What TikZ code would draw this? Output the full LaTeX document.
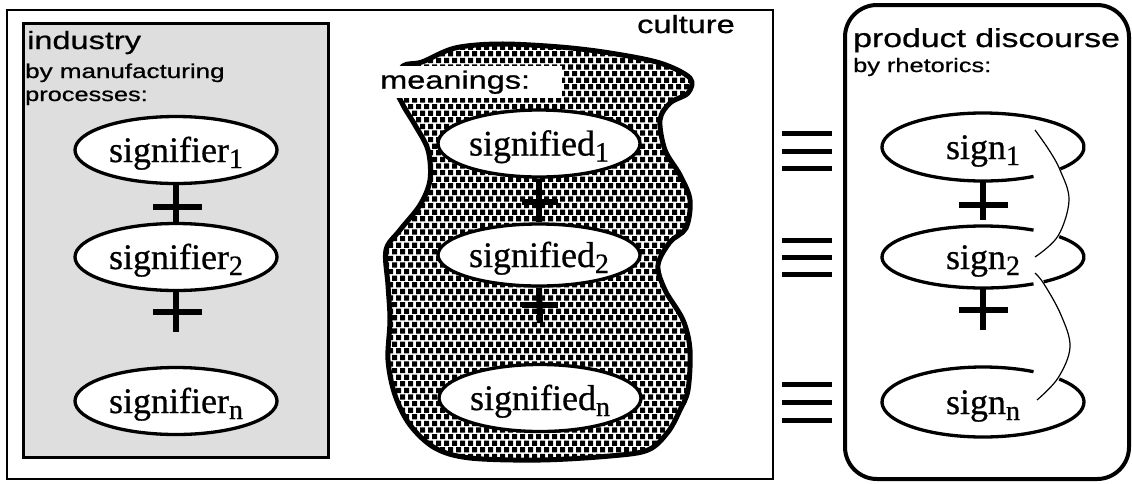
\documentclass[tikz,border=0pt]{standalone}
\usepackage{fontspec}
\setmainfont{Liberation Serif}[FakeBold=0.6]
\newfontfamily\wsans[FakeStretch=1.3,FakeBold=0.8]{Liberation Sans}
\usetikzlibrary{shapes.geometric}
\newcommand\sbs[1]{{\fontsize{28}{28}\selectfont\raisebox{-6pt}{#1}}}
\begin{document}
\begin{tikzpicture}[x=1pt,y=-1pt,
  head/.style={font=\wsans\fontsize{25}{30}\selectfont, inner sep=0pt, anchor=base west},
  subhead/.style={font=\wsans\fontsize{20}{24}\selectfont, inner sep=0pt, anchor=base west},
  ell/.style={ellipse, draw, line width=3.3pt, fill=white, minimum width=202pt, minimum height=67pt,
    inner sep=0pt, text height=26pt, text depth=2pt, font=\fontsize{36}{40}\selectfont},
  signnode/.style={ellipse, minimum width=202pt, minimum height=68pt,
    inner sep=0pt, text height=26pt, text depth=2pt, font=\fontsize{36}{40}\selectfont},
  signline/.style={line width=3.3pt},
  bond/.style={line width=6pt},
  crossbar/.style={line width=6pt},
  eqbar/.style={line width=5pt},
  thread/.style={line width=1.2pt},
  outerframe/.style={line width=2.5pt}]
\fill[white] (0,0) rectangle (1132,483);
\useasboundingbox (0,0) rectangle (1132,483);

% outer frame and industry box
\draw[outerframe] (7,10) rectangle (773,479);
\draw[line width=3pt, fill=black!13] (23,23) rectangle (328,457);

% culture blob: texture
\begin{scope}
\clip plot[smooth cycle, tension=0.55] coordinates {
  (422,62) (455,48) (500,44) (560,47) (610,53) (660,63) (690,78) (688,93)
  (670,103) (660,120) (665,150) (680,175) (690,200) (686,228) (670,242)
  (658,265) (665,290) (683,320) (690,350) (688,390) (680,410) (668,432)
  (648,450) (610,456) (540,460) (470,458) (435,448) (410,425) (395,395)
  (388,360) (390,320) (388,285) (386,250) (400,230) (420,205) (430,180)
  (428,150) (415,125) (403,105) (395,85) (403,66)};
\fill \foreach \r in {0,...,65}{ \foreach \c in {0,...,40}{
  ({376+8*\c+4*mod(\r,2)},{38+6.6*\r}) rectangle ++(5.2,5.2) } };
\end{scope}
% culture blob: outline
\draw[line width=5pt, line join=round]
  plot[smooth cycle, tension=0.55] coordinates {
  (422,62) (455,48) (500,44) (560,47) (610,53) (660,63) (690,78) (688,93)
  (670,103) (660,120) (665,150) (680,175) (690,200) (686,228) (670,242)
  (658,265) (665,290) (683,320) (690,350) (688,390) (680,410) (668,432)
  (648,450) (610,456) (540,460) (470,458) (435,448) (410,425) (395,395)
  (388,360) (390,320) (388,285) (386,250) (400,230) (420,205) (430,180)
  (428,150) (415,125) (403,105) (395,85) (403,66)};

% texts
\node[head] (ind) at (27,49) {industry};
\node[subhead] (ind2) at (25,78) {by manufacturing};
\node[subhead, font=\wsans\fontsize{19.5}{24}\selectfont] (ind3) at (25,101) {processes:};
\node[head] (cul) at (637,33) {culture};
\node[head, anchor=north west, fill=white, minimum width=192pt, minimum height=32pt,
  inner xsep=10pt, text width=172pt, align=left] (mea) at (370,66) {meanings:};
\node[head, font=\wsans\fontsize{26}{30}\selectfont] (pd) at (853,47) {product discourse};
\node[subhead, font=\wsans\fontsize{19.5}{24}\selectfont] (pd2) at (853,72) {by rhetorics:};

% signifiers
\node[ell] (sf1) at (176,150) {signifier\sbs{1}};
\node[ell] (sf2) at (176,257) {signifier\sbs{2}};
\node[ell] (sfn) at (176,401) {signifier\sbs{n}};
\coordinate (sf2e) at (176,332);
\draw[bond] (sf1.south) -- (sf2.north);
\draw[crossbar] (153,207) -- (202,207);
\draw[bond] (sf2.south) -- (sf2e);
\draw[crossbar] (153,312) -- (202,312);

% signifieds
\node[ell] (sd1) at (539,143.5) {signified\sbs{1}};
\node[ell, minimum height=62pt] (sd2) at (539,255) {signified\sbs{2}};
\node[ell] (sdn) at (540,398) {signified\sbs{n}};
\coordinate (sd2e) at (540,323);
\draw[bond] (sd1.south) -- (sd2.north);
\draw[crossbar] (522,202) -- (558,202);
\draw[bond] (sd2.south) -- (sd2e);
\draw[crossbar] (522,305) -- (558,305);

% equivalence bars
\foreach \yy in {133,151,168,240,257,274,384,402,420}
  \draw[eqbar] (782,\yy) -- (832,\yy);

% product discourse box
\draw[line width=4pt, rounded corners=32pt] (845,5) rectangle (1129,479);

% signs
\node[signnode] (sg1) at (983,147) {sign\sbs{1}};
\node[signnode, minimum height=62pt] (sg2) at (983,257) {sign\sbs{2}};
\node[signnode, minimum height=70pt] (sgn) at (983,402) {sign\sbs{n}};
\draw[signline] ([shift={(-300:101 and 34)}]sg1.center) arc[start angle=-300, end angle=40, x radius=101, y radius=34];
\draw[signline] ([shift={(-300:101 and 31)}]sg2.center) arc[start angle=-300, end angle=-60, x radius=101, y radius=31];
\draw[signline] ([shift={(-41:101 and 31)}]sg2.center) arc[start angle=-41, end angle=53, x radius=101, y radius=31];
\draw[signline] ([shift={(-401:101 and 35)}]sgn.center) arc[start angle=-401, end angle=-60, x radius=101, y radius=35];
\coordinate (sg2e) at (983,330);
\draw[bond] (sg1.south) -- ([yshift=6]sg2.north);
\draw[crossbar] (959,205) -- (1008,205);
\draw[bond] (sg2.south) -- (sg2e);
\draw[crossbar] (959,310) -- (1008,310);

% thread
\draw[thread] plot[smooth, tension=0.6] coordinates {(1035,130) (1049,150) (1060,170) (1069,200) (1058,236) (1035,257)};
\draw[thread] plot[smooth, tension=0.6] coordinates {(1035,273) (1044,284) (1061,315) (1070,347) (1058,378) (1037,400)};
\end{tikzpicture}
\end{document}
